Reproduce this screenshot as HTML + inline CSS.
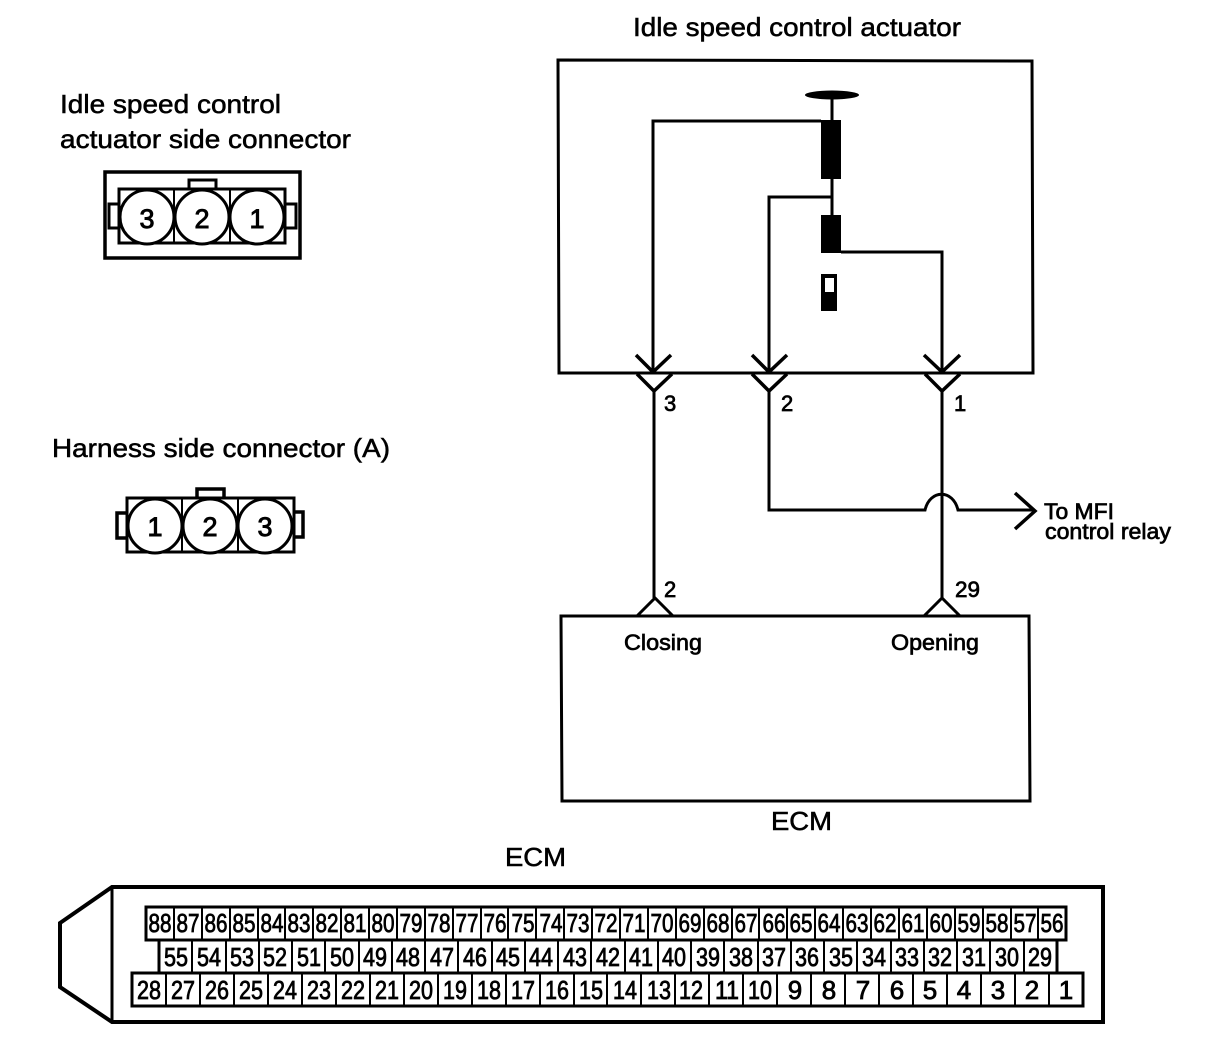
<!DOCTYPE html>
<html><head><meta charset="utf-8"><title>Idle speed control actuator</title>
<style>
html,body{margin:0;padding:0;background:#fff}
svg{display:block}
text{font-family:"Liberation Sans",sans-serif;fill:#000;stroke:#000;stroke-width:.55}
.l{font-size:26px}
.s{font-size:22px;stroke-width:.7}
.c{font-size:27px;text-anchor:middle;stroke-width:.9}
.r{font-size:26px;text-anchor:middle;stroke-width:.8}
.line{fill:none;stroke:#000;stroke-width:3}
.heavy{fill:none;stroke:#000;stroke-width:3.5}
.thin{fill:none;stroke:#000;stroke-width:2}
</style></head><body>
<svg width="1216" height="1044" viewBox="0 0 1216 1044" xmlns="http://www.w3.org/2000/svg">
<text class="l" x="633" y="36" textLength="328" lengthAdjust="spacingAndGlyphs">Idle speed control actuator</text>
<text class="l" x="60" y="113" textLength="221" lengthAdjust="spacingAndGlyphs">Idle speed control</text>
<text class="l" x="60" y="148" textLength="291" lengthAdjust="spacingAndGlyphs">actuator side connector</text>
<text class="l" x="52" y="457" textLength="338" lengthAdjust="spacingAndGlyphs">Harness side connector (A)</text>

<!-- actuator side connector -->
<rect class="heavy" x="105" y="172" width="195" height="86"/>
<path class="line" d="M189 189V180H216V189M120 204H109V228H120M285 204H296V228H285"/>
<rect class="line" x="119" y="189" width="166" height="54"/>
<path class="thin" d="M174 189V243M230 189V243"/>
<circle class="line" cx="147" cy="217" r="27" style="fill:#fff"/>
<circle class="line" cx="202" cy="217" r="27" style="fill:#fff"/>
<circle class="line" cx="257" cy="217" r="27" style="fill:#fff"/>
<text class="c" x="147" y="228">3</text><text class="c" x="202" y="228">2</text><text class="c" x="257" y="228">1</text>

<!-- harness side connector -->
<path class="heavy" d="M197 498V489H224V498M127 513H117V538H127M294 512H303V537H294"/>
<rect class="line" x="127" y="498" width="167" height="54"/>
<path class="thin" d="M182 498V552M238 498V552"/>
<circle class="line" cx="155" cy="526" r="27" style="fill:#fff"/>
<circle class="line" cx="210" cy="526" r="27" style="fill:#fff"/>
<circle class="line" cx="265" cy="526" r="27" style="fill:#fff"/>
<text class="c" x="155" y="536">1</text><text class="c" x="210" y="536">2</text><text class="c" x="265" y="536">3</text>

<!-- actuator box -->
<path class="line" d="M558 60L1032 61L1033 373L559 373Z"/>
<ellipse cx="832" cy="95" rx="27" ry="4.5"/>
<path class="line" d="M832 95V120M832 179V215"/>
<rect x="821" y="120" width="20" height="59"/>
<rect x="821" y="215" width="20" height="38"/>
<rect x="821" y="274" width="16" height="37"/>
<rect x="825" y="278" width="9" height="14" fill="#fff"/>
<path class="line" d="M821 121H653V372"/>
<path class="line" d="M832 197H769V372"/>
<path class="line" d="M841 252H942V372"/>
<path class="heavy" d="M636 355L653 372L671 355M752 355L769 372L787 355M924 355L942 372L960 355"/>
<path class="heavy" d="M637 374L654 391L672 374M752 374L769 391L787 374M925 374L942 391L960 374"/>
<path class="line" d="M654 391V598M942 391V598"/>
<path class="line" d="M769 391V510H925C930 489 953 489 958 510H1035"/>
<path class="heavy" d="M1015 493L1035 511L1015 529"/>
<text class="s" x="664" y="411">3</text>
<text class="s" x="781" y="411">2</text>
<text class="s" x="954" y="411">1</text>
<text class="s" x="664" y="597">2</text>
<text class="s" x="955" y="597" textLength="25" lengthAdjust="spacingAndGlyphs">29</text>
<text class="s" x="1044" y="519" textLength="70" lengthAdjust="spacingAndGlyphs">To MFI</text>
<text class="s" x="1045" y="539" textLength="126" lengthAdjust="spacingAndGlyphs">control relay</text>

<!-- ECM box -->
<path class="line" d="M561 616L1029 616L1030 801L562 801Z"/>
<path class="line" d="M637 616L655 598L673 616M924 616L942 598L960 616"/>
<text class="s" x="624" y="650" textLength="78" lengthAdjust="spacingAndGlyphs">Closing</text>
<text class="s" x="891" y="650" textLength="88" lengthAdjust="spacingAndGlyphs">Opening</text>
<text class="l" x="771" y="830" textLength="61" lengthAdjust="spacingAndGlyphs">ECM</text>
<text class="l" x="505" y="866" textLength="61" lengthAdjust="spacingAndGlyphs">ECM</text>

<!-- ECM connector -->
<path d="M112 887H1103V1022H112L60 987V923Z" fill="none" stroke="#000" stroke-width="4"/>
<path class="line" d="M112 887V1022"/>
<rect class="line" x="146" y="907" width="920" height="33"/>
<rect class="line" x="159" y="940" width="898" height="33"/>
<rect class="line" x="132" y="973" width="951" height="33"/>
<path class="thin" d="M174 907V940M202 907V940M230 907V940M258 907V940M285 907V940M313 907V940M341 907V940M369 907V940M397 907V940M425 907V940M453 907V940M481 907V940M508 907V940M536 907V940M564 907V940M592 907V940M620 907V940M648 907V940M676 907V940M704 907V940M732 907V940M759 907V940M787 907V940M815 907V940M843 907V940M871 907V940M899 907V940M927 907V940M955 907V940M983 907V940M1011 907V940M1038 907V940"/>
<path class="thin" d="M192 940V973M226 940V973M259 940V973M292 940V973M325 940V973M359 940V973M392 940V973M425 940V973M458 940V973M492 940V973M525 940V973M558 940V973M591 940V973M625 940V973M658 940V973M691 940V973M724 940V973M758 940V973M791 940V973M824 940V973M857 940V973M891 940V973M924 940V973M957 940V973M990 940V973M1024 940V973"/>
<path class="thin" d="M166 973V1006M200 973V1006M234 973V1006M268 973V1006M302 973V1006M336 973V1006M370 973V1006M404 973V1006M438 973V1006M472 973V1006M506 973V1006M540 973V1006M574 973V1006M607 973V1006M641 973V1006M675 973V1006M709 973V1006M743 973V1006M777 973V1006M811 973V1006M845 973V1006M879 973V1006M913 973V1006M947 973V1006M981 973V1006M1015 973V1006M1049 973V1006"/>

<g class="row1">
<text class="r" x="160" y="932" textLength="23" lengthAdjust="spacingAndGlyphs">88</text>
<text class="r" x="188" y="932" textLength="23" lengthAdjust="spacingAndGlyphs">87</text>
<text class="r" x="216" y="932" textLength="23" lengthAdjust="spacingAndGlyphs">86</text>
<text class="r" x="244" y="932" textLength="23" lengthAdjust="spacingAndGlyphs">85</text>
<text class="r" x="272" y="932" textLength="23" lengthAdjust="spacingAndGlyphs">84</text>
<text class="r" x="299" y="932" textLength="23" lengthAdjust="spacingAndGlyphs">83</text>
<text class="r" x="327" y="932" textLength="23" lengthAdjust="spacingAndGlyphs">82</text>
<text class="r" x="355" y="932" textLength="23" lengthAdjust="spacingAndGlyphs">81</text>
<text class="r" x="383" y="932" textLength="23" lengthAdjust="spacingAndGlyphs">80</text>
<text class="r" x="411" y="932" textLength="23" lengthAdjust="spacingAndGlyphs">79</text>
<text class="r" x="439" y="932" textLength="23" lengthAdjust="spacingAndGlyphs">78</text>
<text class="r" x="467" y="932" textLength="23" lengthAdjust="spacingAndGlyphs">77</text>
<text class="r" x="495" y="932" textLength="23" lengthAdjust="spacingAndGlyphs">76</text>
<text class="r" x="523" y="932" textLength="23" lengthAdjust="spacingAndGlyphs">75</text>
<text class="r" x="551" y="932" textLength="23" lengthAdjust="spacingAndGlyphs">74</text>
<text class="r" x="578" y="932" textLength="23" lengthAdjust="spacingAndGlyphs">73</text>
<text class="r" x="606" y="932" textLength="23" lengthAdjust="spacingAndGlyphs">72</text>
<text class="r" x="634" y="932" textLength="23" lengthAdjust="spacingAndGlyphs">71</text>
<text class="r" x="662" y="932" textLength="23" lengthAdjust="spacingAndGlyphs">70</text>
<text class="r" x="690" y="932" textLength="23" lengthAdjust="spacingAndGlyphs">69</text>
<text class="r" x="718" y="932" textLength="23" lengthAdjust="spacingAndGlyphs">68</text>
<text class="r" x="746" y="932" textLength="23" lengthAdjust="spacingAndGlyphs">67</text>
<text class="r" x="774" y="932" textLength="23" lengthAdjust="spacingAndGlyphs">66</text>
<text class="r" x="801" y="932" textLength="23" lengthAdjust="spacingAndGlyphs">65</text>
<text class="r" x="829" y="932" textLength="23" lengthAdjust="spacingAndGlyphs">64</text>
<text class="r" x="857" y="932" textLength="23" lengthAdjust="spacingAndGlyphs">63</text>
<text class="r" x="885" y="932" textLength="23" lengthAdjust="spacingAndGlyphs">62</text>
<text class="r" x="913" y="932" textLength="23" lengthAdjust="spacingAndGlyphs">61</text>
<text class="r" x="941" y="932" textLength="23" lengthAdjust="spacingAndGlyphs">60</text>
<text class="r" x="969" y="932" textLength="23" lengthAdjust="spacingAndGlyphs">59</text>
<text class="r" x="997" y="932" textLength="23" lengthAdjust="spacingAndGlyphs">58</text>
<text class="r" x="1025" y="932" textLength="23" lengthAdjust="spacingAndGlyphs">57</text>
<text class="r" x="1052" y="932" textLength="23" lengthAdjust="spacingAndGlyphs">56</text>
</g>
<g class="row2">
<text class="r" x="176" y="966" textLength="24" lengthAdjust="spacingAndGlyphs">55</text>
<text class="r" x="209" y="966" textLength="24" lengthAdjust="spacingAndGlyphs">54</text>
<text class="r" x="242" y="966" textLength="24" lengthAdjust="spacingAndGlyphs">53</text>
<text class="r" x="275" y="966" textLength="24" lengthAdjust="spacingAndGlyphs">52</text>
<text class="r" x="309" y="966" textLength="24" lengthAdjust="spacingAndGlyphs">51</text>
<text class="r" x="342" y="966" textLength="24" lengthAdjust="spacingAndGlyphs">50</text>
<text class="r" x="375" y="966" textLength="24" lengthAdjust="spacingAndGlyphs">49</text>
<text class="r" x="408" y="966" textLength="24" lengthAdjust="spacingAndGlyphs">48</text>
<text class="r" x="442" y="966" textLength="24" lengthAdjust="spacingAndGlyphs">47</text>
<text class="r" x="475" y="966" textLength="24" lengthAdjust="spacingAndGlyphs">46</text>
<text class="r" x="508" y="966" textLength="24" lengthAdjust="spacingAndGlyphs">45</text>
<text class="r" x="541" y="966" textLength="24" lengthAdjust="spacingAndGlyphs">44</text>
<text class="r" x="575" y="966" textLength="24" lengthAdjust="spacingAndGlyphs">43</text>
<text class="r" x="608" y="966" textLength="24" lengthAdjust="spacingAndGlyphs">42</text>
<text class="r" x="641" y="966" textLength="24" lengthAdjust="spacingAndGlyphs">41</text>
<text class="r" x="674" y="966" textLength="24" lengthAdjust="spacingAndGlyphs">40</text>
<text class="r" x="708" y="966" textLength="24" lengthAdjust="spacingAndGlyphs">39</text>
<text class="r" x="741" y="966" textLength="24" lengthAdjust="spacingAndGlyphs">38</text>
<text class="r" x="774" y="966" textLength="24" lengthAdjust="spacingAndGlyphs">37</text>
<text class="r" x="807" y="966" textLength="24" lengthAdjust="spacingAndGlyphs">36</text>
<text class="r" x="841" y="966" textLength="24" lengthAdjust="spacingAndGlyphs">35</text>
<text class="r" x="874" y="966" textLength="24" lengthAdjust="spacingAndGlyphs">34</text>
<text class="r" x="907" y="966" textLength="24" lengthAdjust="spacingAndGlyphs">33</text>
<text class="r" x="940" y="966" textLength="24" lengthAdjust="spacingAndGlyphs">32</text>
<text class="r" x="974" y="966" textLength="24" lengthAdjust="spacingAndGlyphs">31</text>
<text class="r" x="1007" y="966" textLength="24" lengthAdjust="spacingAndGlyphs">30</text>
<text class="r" x="1040" y="966" textLength="24" lengthAdjust="spacingAndGlyphs">29</text>
</g>
<g class="row3">
<text class="r" x="149" y="999" textLength="24" lengthAdjust="spacingAndGlyphs">28</text>
<text class="r" x="183" y="999" textLength="24" lengthAdjust="spacingAndGlyphs">27</text>
<text class="r" x="217" y="999" textLength="24" lengthAdjust="spacingAndGlyphs">26</text>
<text class="r" x="251" y="999" textLength="24" lengthAdjust="spacingAndGlyphs">25</text>
<text class="r" x="285" y="999" textLength="24" lengthAdjust="spacingAndGlyphs">24</text>
<text class="r" x="319" y="999" textLength="24" lengthAdjust="spacingAndGlyphs">23</text>
<text class="r" x="353" y="999" textLength="24" lengthAdjust="spacingAndGlyphs">22</text>
<text class="r" x="387" y="999" textLength="24" lengthAdjust="spacingAndGlyphs">21</text>
<text class="r" x="421" y="999" textLength="24" lengthAdjust="spacingAndGlyphs">20</text>
<text class="r" x="455" y="999" textLength="24" lengthAdjust="spacingAndGlyphs">19</text>
<text class="r" x="489" y="999" textLength="24" lengthAdjust="spacingAndGlyphs">18</text>
<text class="r" x="523" y="999" textLength="24" lengthAdjust="spacingAndGlyphs">17</text>
<text class="r" x="557" y="999" textLength="24" lengthAdjust="spacingAndGlyphs">16</text>
<text class="r" x="591" y="999" textLength="24" lengthAdjust="spacingAndGlyphs">15</text>
<text class="r" x="625" y="999" textLength="24" lengthAdjust="spacingAndGlyphs">14</text>
<text class="r" x="659" y="999" textLength="24" lengthAdjust="spacingAndGlyphs">13</text>
<text class="r" x="691" y="999" textLength="24" lengthAdjust="spacingAndGlyphs">12</text>
<text class="r" x="727" y="999" textLength="24" lengthAdjust="spacingAndGlyphs">11</text>
<text class="r" x="760" y="999" textLength="24" lengthAdjust="spacingAndGlyphs">10</text>
<text class="r" x="795" y="999">9</text>
<text class="r" x="829" y="999">8</text>
<text class="r" x="863" y="999">7</text>
<text class="r" x="897" y="999">6</text>
<text class="r" x="930" y="999">5</text>
<text class="r" x="964" y="999">4</text>
<text class="r" x="998" y="999">3</text>
<text class="r" x="1032" y="999">2</text>
<text class="r" x="1066" y="999">1</text>
</g>
</svg>
</body></html>
